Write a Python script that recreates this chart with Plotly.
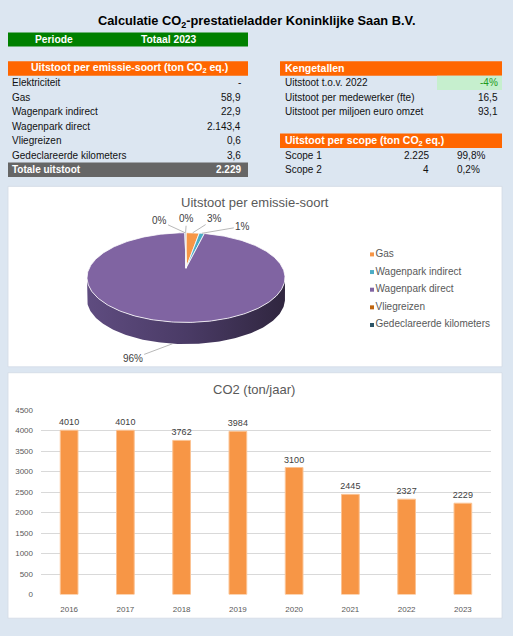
import math
import plotly.graph_objects as go

titel = "<b>Calculatie CO<sub>2</sub>-prestatieladder Koninklijke Saan B.V.</b>"
periode = ["Periode", "Totaal 2023"]

emissie_soorten = ["Elektriciteit", "Gas", "Wagenpark indirect", "Wagenpark direct",
                   "Vliegreizen", "Gedeclareerde kilometers"]
emissie_ton = [None, 58.9, 22.9, 2143.4, 0.6, 3.6]

kengetallen = ["Uitstoot t.o.v. 2022", "Uitstoot per medewerker (fte)",
               "Uitstoot per miljoen euro omzet"]
per_fte = 16.5
per_miljoen_omzet = 93.1

scopes = ["Scope 1", "Scope 2"]
scope_ton = [2225, 4]

jaren = ["2016", "2017", "2018", "2019", "2020", "2021", "2022", "2023"]
co2_ton_jaar = [4010, 4010, 3762, 3984, 3100, 2445, 2327, 2229]

# ---- styling ----
FONT = "Liberation Sans"
BG = "#dce6f1"
ORANJE = "#ff6600"
GROEN = "#008000"
GRIJS = "#666666"
TXT = "#111111"
AS_TXT = "#595959"
W, H = 513, 636

pie_kleuren = ["#f79646", "#4bacc6", "#8064a2", "#c0650f", "#2c5466"]
# label offsets (px) for the pie data labels: Gas, indirect, direct, vlieg, km
label_offset = [(22, -14), (41, -7), (-40, 15), (-26, -12), (1, -14)]


def nl(v, dec=1):
    s = f"{v:,.{dec}f}"
    return s.replace(",", " ").replace(".", ",").replace(" ", ".")


totaal = sum(v for v in emissie_ton if v is not None)
verschil = co2_ton_jaar[-1] / co2_ton_jaar[-2] - 1
scope_pct = [v / sum(scope_ton) * 100 for v in scope_ton]

fig = go.Figure()
shapes = []
ann = []


def tekst(x, y, s, anchor="left", size=10, color=TXT, bold=False):
    if bold:
        s = "<b>" + s + "</b>"
    ann.append(dict(x=x, y=y, xref="x2", yref="y2", text=s, showarrow=False,
                    xanchor=anchor, yanchor="middle",
                    font=dict(family=FONT, size=size, color=color)))


def vlak(x0, x1, y0, y1, kleur, xref="x2", yref="y2", line=None):
    shapes.append(dict(type="rect", xref=xref, yref=yref, x0=x0, x1=x1, y0=y0, y1=y1,
                       fillcolor=kleur, line=line or dict(width=0), layer="below"))


# ---- title and period bar ----
tekst(256, 18, titel, anchor="center", size=12.8, color="#000000")
vlak(8, 248, 29, 43, GROEN)
tekst(54, 36, periode[0], anchor="center", size=10.3, color="white", bold=True)
tekst(169, 36, periode[1], anchor="center", size=10.3, color="white", bold=True)

# ---- tables ----
TOP, RH = 58, 14.67
KOP = 10.5


def rij(k):
    return TOP + k * RH, TOP + (k + 1) * RH, TOP + (k + 0.5) * RH


# left: emissions per source
y0, y1, ym = rij(0)
vlak(8, 248, y0, y1, ORANJE)
tekst(129, ym, "Uitstoot per emissie-soort (ton CO<sub>2</sub> eq.)", anchor="center",
      size=KOP, color="white", bold=True)
for i, (naam, v) in enumerate(zip(emissie_soorten, emissie_ton)):
    _, _, ym = rij(i + 1)
    tekst(10, ym, naam)
    tekst(243, ym, "-" if v is None else nl(v, 1), anchor="right")
y0, y1, ym = rij(len(emissie_soorten) + 1)
vlak(8, 248, y0, y1, GRIJS)
tekst(10, ym, "Totale uitstoot", color="white", bold=True)
tekst(243, ym, nl(totaal, 0), anchor="right", color="white", bold=True)

# right: kengetallen
y0, y1, ym = rij(0)
vlak(280, 502, y0, y1, ORANJE)
tekst(283, ym, "Kengetallen", size=KOP, color="white", bold=True)
waarden = [f"{round(verschil * 100):d}%", nl(per_fte, 1), nl(per_miljoen_omzet, 1)]
for i, (naam, s) in enumerate(zip(kengetallen, waarden)):
    y0, y1, ym = rij(i + 1)
    if i == 0:
        vlak(437, 502, y0, y1, "#c6efce")
    tekst(283, ym, naam)
    tekst(500, ym, s, anchor="right", color="#1e9a1e" if i == 0 else TXT)

# right: per scope
y0, y1, ym = rij(5)
vlak(280, 502, y0, y1, ORANJE)
tekst(283, ym, "Uitstoot per scope (ton CO<sub>2</sub> eq.)", size=KOP, color="white", bold=True)
for i, (naam, v, p) in enumerate(zip(scopes, scope_ton, scope_pct)):
    _, _, ym = rij(i + 6)
    tekst(283, ym, naam)
    tekst(431, ym, nl(v, 0), anchor="right")
    tekst(455, ym, nl(p, 1) + "%")

# ---- white chart panels ----
panel_line = dict(color="#d3dbe6", width=0.8)
vlak(8 / W, 502 / W, 1 - 185 / H, 1 - 368 / H, "white", "paper", "paper", panel_line)
vlak(8 / W, 502 / W, 1 - 374 / H, 1 - 623 / H, "white", "paper", "paper", panel_line)

# ---- 3D pie (perspective ellipse) ----
CX, CY, RX, RY, K, DIEPTE = 186, 268, 96.8, 43.5, 0.209, 22


def proj(t, drop=0.0):
    d = 1 + K * math.cos(t)
    return CX + RX * math.sin(t) / d, CY - RY * math.cos(t) / d + drop


pie_namen = [n for n, v in zip(emissie_soorten, emissie_ton) if v is not None]
pie_waarden = [v for v in emissie_ton if v is not None]
pie_tot = sum(pie_waarden)
grenzen = [0.0]
for v in pie_waarden:
    grenzen.append(grenzen[-1] + v / pie_tot * 2 * math.pi)


def boog(a, b, drop=0.0):
    n = max(2, int(abs(b - a) * 180 / math.pi) + 2)
    pts = [proj(a + (b - a) * j / (n - 1), drop) for j in range(n)]
    return [p[0] for p in pts], [p[1] for p in pts]


# visible side wall
zij_a, zij_b = math.acos(-K), 2 * math.pi - math.acos(-K)
for i, v in enumerate(pie_waarden):
    a, b = max(grenzen[i], zij_a), min(grenzen[i + 1], zij_b)
    if b <= a:
        continue
    xt, yt = boog(a, b)
    xb, yb = boog(b, a, DIEPTE)
    fig.add_trace(go.Scatter(
        x=xt + xb + [xt[0]], y=yt + yb + [yt[0]], xaxis="x2", yaxis="y2",
        mode="lines", fill="toself", line=dict(width=0),
        fillgradient=dict(type="horizontal",
                          colorscale=[[0, "#5f4c80"], [0.5, "#4a3b66"], [1, "#30263f"]]),
        hoverinfo="skip"))

# top faces
for i, v in enumerate(pie_waarden):
    xs, ys = boog(grenzen[i], grenzen[i + 1])
    fig.add_trace(go.Scatter(
        x=[CX] + xs + [CX], y=[CY] + ys + [CY], xaxis="x2", yaxis="y2",
        mode="lines", fill="toself", fillcolor=pie_kleuren[i],
        line=dict(color="white", width=0.8), hoverinfo="skip"))

# data labels with leader lines
for i, v in enumerate(pie_waarden):
    t = (grenzen[i] + grenzen[i + 1]) / 2
    drop = DIEPTE if math.cos(t) < -K else 0
    px, py = proj(t, drop)
    ax, ay = label_offset[i]
    ann.append(dict(x=px, y=py, xref="x2", yref="y2", ax=ax, ay=ay,
                    text=f"{round(v / pie_tot * 100):d}%", showarrow=True,
                    arrowhead=0, arrowwidth=0.8, arrowcolor="#a6a6a6", standoff=0,
                    font=dict(family=FONT, size=10, color="#404040")))

# legend
fig.add_trace(go.Scatter(
    x=[372] * len(pie_namen), y=[254 + 17.9 * i for i in range(len(pie_namen))],
    xaxis="x2", yaxis="y2", mode="markers+text", text=pie_namen,
    textposition="middle right",
    textfont=dict(family=FONT, size=10, color=AS_TXT),
    marker=dict(symbol="square", size=4, color=pie_kleuren), hoverinfo="skip"))

tekst(255, 201, "Uitstoot per emissie-soort", anchor="center", size=13, color=AS_TXT)

# ---- bar chart ----
fig.add_trace(go.Bar(
    x=jaren, y=co2_ton_jaar, xaxis="x", yaxis="y",
    text=[str(v) for v in co2_ton_jaar], textposition="outside", cliponaxis=False,
    constraintext="none",
    textfont=dict(family=FONT, size=9, color="#404040"),
    marker=dict(color="#f79646", line=dict(color="#fbc394", width=1))))

tekst(254, 391, "CO2 (ton/jaar)", anchor="center", size=13, color=AS_TXT)

fig.update_layout(
    width=W, height=H, margin=dict(l=0, r=0, t=0, b=0),
    paper_bgcolor=BG, plot_bgcolor="rgba(0,0,0,0)",
    showlegend=False, bargap=0.685,
    font=dict(family=FONT, color=TXT),
    shapes=shapes, annotations=ann,
    xaxis=dict(domain=[41 / W, 491 / W], type="category", showgrid=False,
               showline=False, ticks="", ticklabelstandoff=8,
               tickfont=dict(family=FONT, size=8, color=AS_TXT), fixedrange=True),
    yaxis=dict(domain=[1 - 599 / H, 1 - 412 / H], range=[0, 4500], dtick=500,
               showgrid=True, gridcolor="#d9d9d9", gridwidth=1, zeroline=False,
               showline=False, ticks="", ticklabelstandoff=7,
               tickfont=dict(family=FONT, size=8, color=AS_TXT), fixedrange=True),
    xaxis2=dict(domain=[0, 1], range=[0, W], visible=False, anchor="y2", fixedrange=True),
    yaxis2=dict(domain=[0, 1], range=[H, 0], visible=False, anchor="x2", fixedrange=True),
)

# the page body has a default 8px margin; drop it so the figure fills the window
fig.write_html("out.html", config={"displayModeBar": False},
               post_script="document.body.style.margin='0';")
